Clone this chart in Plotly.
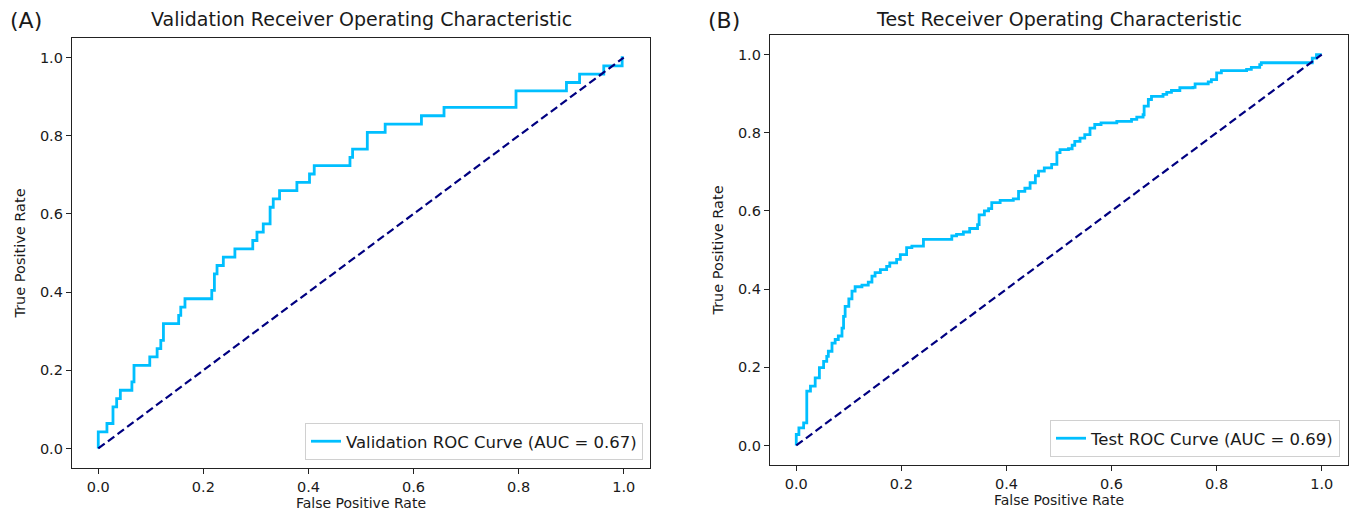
import plotly.graph_objects as go

# Validation ROC (riser x, TPR after rise), drawn as step 'hv'
val_fpr = [0.0, 0.0, 0.0165, 0.028, 0.035, 0.042, 0.064, 0.068, 0.098, 0.112, 0.119,
           0.124, 0.153, 0.157, 0.165, 0.216, 0.221, 0.226, 0.238, 0.260, 0.294, 0.302,
           0.314, 0.327, 0.333, 0.345, 0.378, 0.402, 0.411, 0.479, 0.484, 0.512, 0.546,
           0.615, 0.658, 0.795, 0.891, 0.916, 0.962, 0.997, 1.0]
val_tp_counts = [0, 2, 3, 5, 6, 7, 8, 10, 11, 12, 13,
                 15, 16, 17, 18, 19, 21, 22, 23, 24, 25, 26,
                 27, 29, 30, 31, 32, 33, 34, 35, 36, 38, 39,
                 40, 41, 43, 44, 45, 46, 47, 47]
val_positives = 47
val_tpr = [c / val_positives for c in val_tp_counts]

# Test ROC (riser x, TPR after rise), drawn as step 'hv'
test_fpr = [0.0, 0.0, 0.005, 0.014, 0.020, 0.027, 0.036, 0.044, 0.052, 0.058, 0.061,
            0.068, 0.074, 0.080, 0.087, 0.090, 0.093, 0.100, 0.106, 0.112, 0.125,
            0.137, 0.144, 0.150, 0.160, 0.172, 0.178, 0.191, 0.198, 0.210, 0.220,
            0.242, 0.296, 0.305, 0.318, 0.330, 0.345, 0.348, 0.358, 0.366, 0.372,
            0.388, 0.413, 0.423, 0.435, 0.445, 0.455, 0.461, 0.472, 0.486, 0.496,
            0.502, 0.518, 0.525, 0.530, 0.540, 0.549, 0.559, 0.568, 0.580, 0.610,
            0.638, 0.648, 0.660, 0.662, 0.670, 0.676, 0.698, 0.705, 0.714, 0.730,
            0.755, 0.759, 0.784, 0.790, 0.800, 0.809, 0.857, 0.866, 0.882, 0.885,
            0.977, 0.982, 0.990, 1.0]
test_tpr = [0.0, 0.028, 0.045, 0.058, 0.139, 0.152, 0.173, 0.199, 0.215, 0.228, 0.241,
            0.262, 0.271, 0.280, 0.300, 0.330, 0.356, 0.375, 0.395, 0.406, 0.410,
            0.418, 0.433, 0.442, 0.450, 0.458, 0.467, 0.476, 0.488, 0.506, 0.510,
            0.527, 0.536, 0.540, 0.546, 0.555, 0.565, 0.590, 0.600, 0.606, 0.621,
            0.627, 0.631, 0.650, 0.658, 0.672, 0.690, 0.702, 0.710, 0.719, 0.749,
            0.757, 0.759, 0.768, 0.778, 0.786, 0.795, 0.812, 0.821, 0.825, 0.829,
            0.834, 0.840, 0.846, 0.868, 0.885, 0.893, 0.898, 0.903, 0.908, 0.915,
            0.916, 0.925, 0.930, 0.936, 0.953, 0.959, 0.962, 0.967, 0.974, 0.979,
            0.979, 0.991, 1.0, 1.0]

diag = [0.0, 1.0]
tick_vals = [0.0, 0.2, 0.4, 0.6, 0.8, 1.0]
tick_text = ["0.0", "0.2", "0.4", "0.6", "0.8", "1.0"]

val_name = "Validation ROC Curve (AUC = 0.67)"
test_name = "Test ROC Curve (AUC = 0.69)"
titles = ["Validation Receiver Operating Characteristic", "Test Receiver Operating Characteristic"]
panel_labels = ["(A)", "(B)"]

W, H = 1351, 518
FONT = "DejaVu Sans"
CURVE = "#00BFFF"
NAVY = "#000080"
TXT = "#1a1a1a"

fig = go.Figure()

fig.add_trace(go.Scatter(x=val_fpr, y=val_tpr, mode="lines", line=dict(color=CURVE, width=2.8, shape="hv"),
                         name=val_name, xaxis="x", yaxis="y", legend="legend"))
fig.add_trace(go.Scatter(x=diag, y=diag, mode="lines", line=dict(color=NAVY, width=2.2, dash="8px,4px"),
                         showlegend=False, xaxis="x", yaxis="y"))
fig.add_trace(go.Scatter(x=test_fpr, y=test_tpr, mode="lines", line=dict(color=CURVE, width=2.8, shape="hv"),
                         name=test_name, xaxis="x2", yaxis="y2", legend="legend2"))
fig.add_trace(go.Scatter(x=diag, y=diag, mode="lines", line=dict(color=NAVY, width=2.2, dash="8px,4px"),
                         showlegend=False, xaxis="x2", yaxis="y2"))

def px_x(p):
    return p / W

def px_y(p):
    return 1 - p / H

ax_common = dict(range=[-0.05, 1.05], showgrid=False, zeroline=False, showline=True, mirror=True,
                 linecolor="#222", linewidth=1.3, ticks="outside", ticklen=5, tickwidth=1.2,
                 tickcolor="#222", tickvals=tick_vals, ticktext=tick_text, automargin=False,
                 tickfont=dict(family=FONT, size=14.5, color=TXT))

xt = dict(text="False Positive Rate", font=dict(family=FONT, size=14, color=TXT), standoff=4)
yt = dict(text="True Positive Rate", font=dict(family=FONT, size=14.5, color=TXT), standoff=10)

leg_common = dict(xanchor="right", yanchor="bottom", bgcolor="rgba(255,255,255,0.85)",
                  bordercolor="#d0d0d0", borderwidth=1, itemwidth=30,
                  font=dict(family=FONT, size=16.5, color=TXT))

fig.update_layout(
    width=W, height=H, margin=dict(l=0, r=0, t=0, b=0, autoexpand=False),
    paper_bgcolor="white", plot_bgcolor="white",
    font=dict(family=FONT, color=TXT),
    xaxis=dict(ax_common, domain=[px_x(72), px_x(650)], anchor="y", title=xt),
    yaxis=dict(ax_common, domain=[px_y(468), px_y(38)], anchor="x", title=yt),
    xaxis2=dict(ax_common, domain=[px_x(770), px_x(1348)], anchor="y2", title=xt),
    yaxis2=dict(ax_common, domain=[px_y(465), px_y(35)], anchor="x2", title=yt),
    legend=dict(leg_common, x=px_x(643), y=px_y(460)),
    legend2=dict(leg_common, x=px_x(1340), y=px_y(457)),
    showlegend=True,
)

for cx, text in zip([361, 1059], titles):
    fig.add_annotation(x=px_x(cx), y=px_y(19), xref="paper", yref="paper", text=text, showarrow=False,
                       xanchor="center", yanchor="middle", font=dict(family=FONT, size=19, color=TXT))
for lx, text in zip([8, 706], panel_labels):
    fig.add_annotation(x=px_x(lx), y=px_y(20), xref="paper", yref="paper", text=text, showarrow=False,
                       xanchor="left", yanchor="middle", font=dict(family=FONT, size=22, color=TXT))

fig.write_html("out.html", config={"displayModeBar": False},
               post_script="document.body.style.margin='0';document.body.style.overflow='hidden';")
